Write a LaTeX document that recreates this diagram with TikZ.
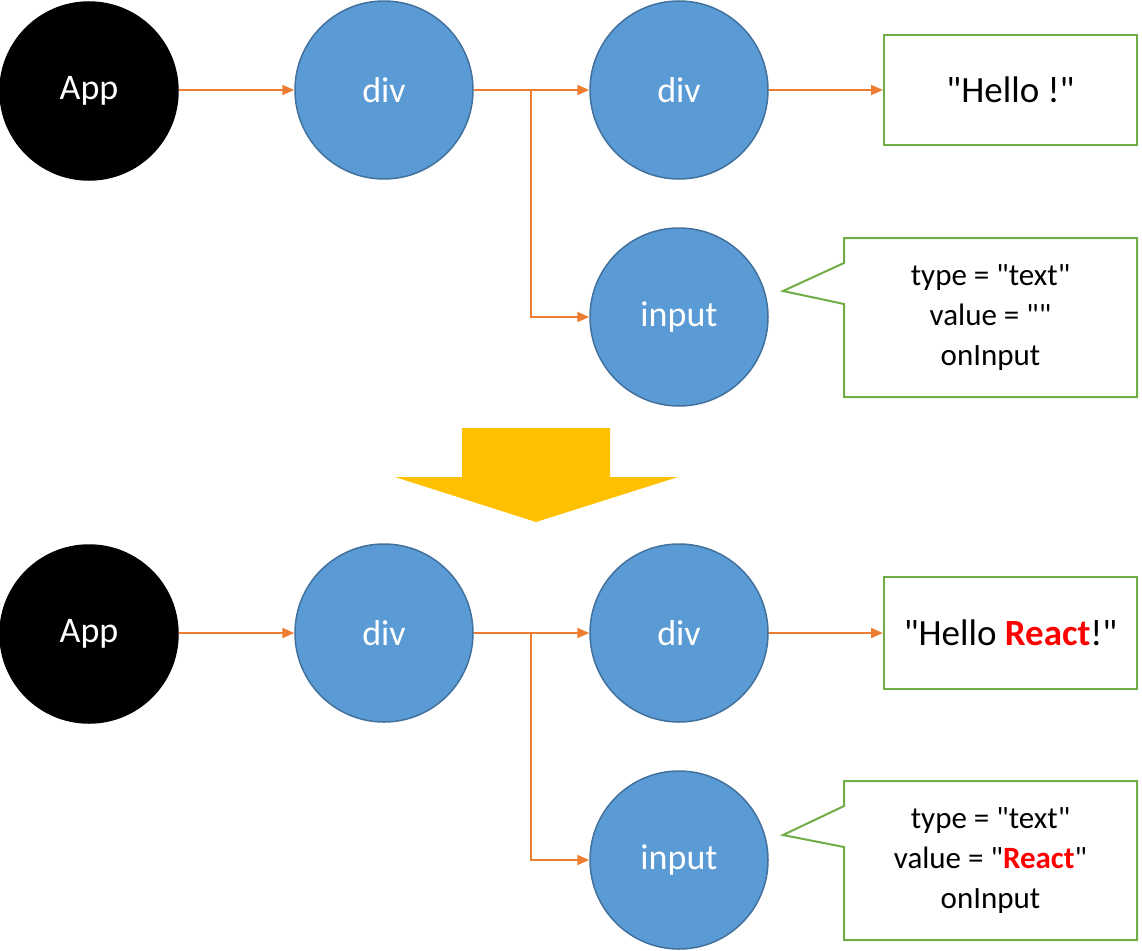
\documentclass[tikz,border=0pt]{standalone}
\usepackage{fontspec}
\newfontfamily\calfont{Carlito}
\usetikzlibrary{arrows.meta}
\definecolor{nodeblue}{HTML}{5B9BD5}
\definecolor{nodeborder}{HTML}{41719C}
\definecolor{linkorange}{HTML}{ED7D31}
\definecolor{boxgreen}{HTML}{70AD47}
\definecolor{arrowyellow}{HTML}{FFC000}
\definecolor{hlred}{HTML}{FF0000}
\tikzset{
  appnode/.style={circle, fill=black, draw=black, line width=1.5pt, minimum size=178pt, inner sep=0pt, text=white, font=\calfont\fontsize{36}{42}\selectfont},
  domnode/.style={circle, fill=nodeblue, draw=nodeborder, line width=1.5pt, minimum size=178pt, inner sep=0pt, text=white, font=\calfont\fontsize{36}{42}\selectfont},
  textbox/.style={rectangle, draw=boxgreen, line width=2pt, minimum width=253pt, minimum height=110pt, inner sep=0pt, font=\calfont\fontsize{37}{42}\selectfont},
  calloutshape/.style={draw=boxgreen, line width=2pt, fill=white},
  callouttext/.style={align=center, inner sep=0pt, font=\calfont\fontsize{31}{40}\selectfont},
  link/.style={draw=linkorange, line width=2pt, -{Triangle[length=12pt,width=10pt]}}
}
\newcommand{\hl}[1]{\textcolor{hlred}{\textbf{#1}}}
\begin{document}
\begin{tikzpicture}[x=1pt,y=-1pt]
\useasboundingbox (0,0) rectangle (1142,950);

% ---------- top tree ----------
\node[appnode] (app1) at (89,91) {App};
\node[domnode] (diva1) at (384,90) {div};
\node[domnode] (divb1) at (679,90) {div};
\node[domnode] (inp1) at (679,317) {input};
\node[textbox] (hello1) at (1010.5,90) {"Hello !"};
\coordinate (br1) at (531,90);

\draw[link] (app1.east |- diva1) -- (diva1.west);
\draw[link] (diva1.east) -- (divb1.west);
\draw[link] (divb1.east) -- (hello1.west);
\draw[link] (br1) |- (inp1.west);

\draw[calloutshape] (844,238) -- (1137,238) -- (1137,397) -- (844,397) -- (844,304) -- (783,291) -- (844,263) -- cycle;
\node[callouttext] (props1) at (990.5,318) {type = "text"\\value = ""\\onInput};

% ---------- transition arrow ----------
\fill[arrowyellow] (462,428) -- (610,428) -- (610,477) -- (678,477) -- (536,522) -- (395,477) -- (462,477) -- cycle;

% ---------- bottom tree ----------
\node[appnode] (app2) at (89,634) {App};
\node[domnode] (diva2) at (384,633) {div};
\node[domnode] (divb2) at (679,633) {div};
\node[domnode] (inp2) at (679,860) {input};
\node[textbox, minimum height=112pt] (hello2) at (1010.5,633) {"Hello \hl{React}!"};
\coordinate (br2) at (531,633);

\draw[link] (app2.east |- diva2) -- (diva2.west);
\draw[link] (diva2.east) -- (divb2.west);
\draw[link] (divb2.east) -- (hello2.west);
\draw[link] (br2) |- (inp2.west);

\draw[calloutshape] (844,781) -- (1137,781) -- (1137,940) -- (844,940) -- (844,847) -- (783,835) -- (844,806) -- cycle;
\node[callouttext] (props2) at (990.5,861) {type = "text"\\value = "\hl{React}"\\onInput};
\end{tikzpicture}
\end{document}
